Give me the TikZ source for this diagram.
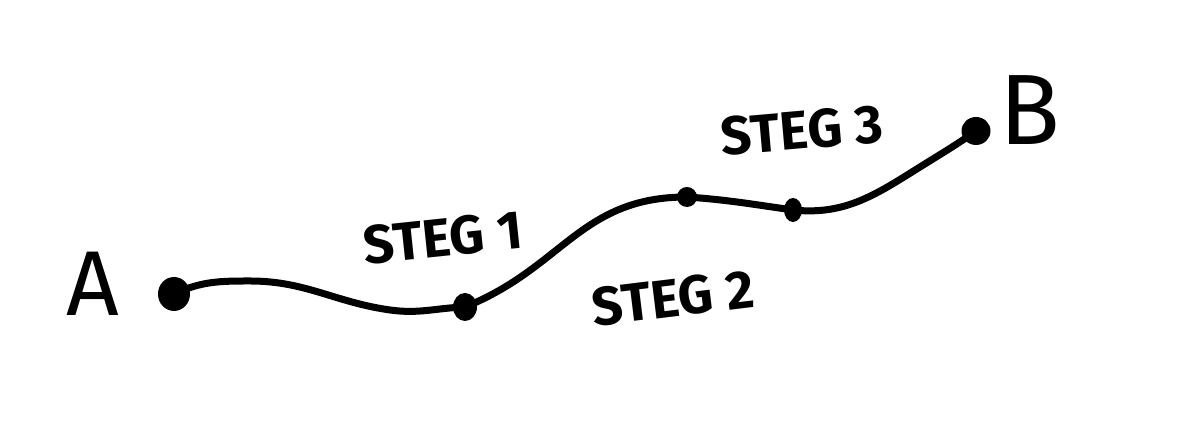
\documentclass[tikz,border=0pt]{standalone}
\usepackage{fontspec}
\setmainfont{Fira Sans}
\usetikzlibrary{shapes.geometric}
\begin{document}
\begin{tikzpicture}[x=0.5pt,y=0.5pt,
  pathline/.style={line width=3.5pt,line cap=round,line join=round,black},
  dotnode/.style={ellipse,fill=black,inner sep=0pt},
  steglabel/.style={font=\fontsize{27}{30}\selectfont\bfseries,inner sep=0pt},
  endlabel/.style={font=\fontsize{46}{50}\selectfont,inner sep=0pt}]
\useasboundingbox[fill=white] (0,0) rectangle (1200,431);
% dots
\node[dotnode,minimum width=16pt,minimum height=17pt] (a) at (174,137) {};
\node[dotnode,minimum width=12pt,minimum height=14pt] (d1) at (465,124) {};
\node[dotnode,minimum width=10pt,minimum height=10pt] (d2) at (687,234) {};
\node[dotnode,minimum width=9pt,minimum height=12pt] (d3) at (793,221) {};
\node[dotnode,minimum width=14.5pt,minimum height=14pt] (d4) at (976,300) {};
% shape points of the curve
\coordinate (c1) at (250,150);
\coordinate (c2) at (390,121);
\coordinate (c6) at (920,264);
\draw[pathline] (a.center) to[out=25,in=180] (c1)
  to[out=0,in=172] (c2)
  to[out=-8,in=182] (d1.center)
  to[out=22,in=180,looseness=1.1] (d2.center)
  to[out=-4,in=172] (d3.center)
  to[out=-6,in=212] (c6)
  to[out=32,in=215] (d4.center);
% labels
\node[endlabel] (la) at (93,147) {A};
\node[endlabel,font=\fontsize{50}{54}\selectfont] (lb) at (1030,321) {B};
\node[steglabel,rotate=6] (s1) at (443,193) {STEG 1};
\node[steglabel,rotate=7] (s2) at (673,133) {STEG 2};
\node[steglabel,rotate=5] (s3) at (802,301) {STEG 3};
\end{tikzpicture}
\end{document}
